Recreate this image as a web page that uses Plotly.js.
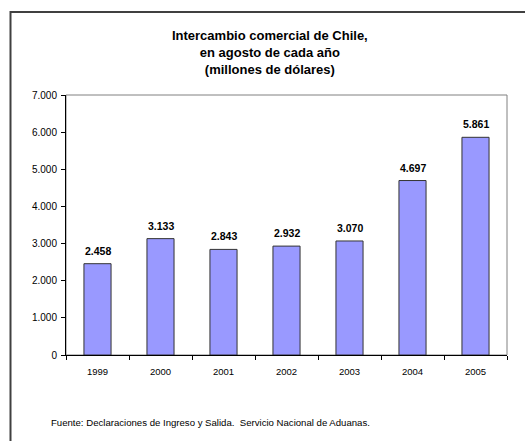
<!DOCTYPE html>
<html>
<head>
<meta charset="utf-8">
<script src="https://cdn.plot.ly/plotly-3.0.1.min.js"></script>
<style>
  html, body { margin: 0; padding: 0; background: #ffffff; }
  #chart { width: 525px; height: 441px; }
</style>
</head>
<body>
<div id="chart"></div>
<script>
const years = ['1999', '2000', '2001', '2002', '2003', '2004', '2005'];
const values = [2458, 3133, 2843, 2932, 3070, 4697, 5861];
const yTickVals = [0, 1000, 2000, 3000, 4000, 5000, 6000, 7000];
const titleLines = ['Intercambio comercial de Chile,', 'en agosto de cada año', '(millones de dólares)'];
const sourceNote = 'Fuente: Declaraciones de Ingreso y Salida.\u00a0\u00a0Servicio Nacional de Aduanas.';

const FONT = 'Liberation Sans, Arial, sans-serif';

function fmt(v) {
  return String(v).replace(/\B(?=(\d{3})+(?!\d))/g, '.');
}

const trace = {
  type: 'bar',
  x: years,
  y: values,
  marker: { color: '#9999FF', line: { color: '#333333', width: 1 } },
  hoverinfo: 'skip'
};

const labelAnnotations = years.map((yr, i) => ({
  x: i, y: values[i], xref: 'x', yref: 'y',
  text: '<b>' + fmt(values[i]) + '</b>',
  showarrow: false, yanchor: 'bottom', yshift: 5,
  font: { family: FONT, size: 10.5, color: '#000000' }
}));

const layout = {
  width: 525, height: 441,
  margin: { l: 66, r: 18, t: 95, b: 86 },
  paper_bgcolor: '#ffffff',
  plot_bgcolor: '#ffffff',
  separators: ',.',
  showlegend: false,
  bargap: 0.57,
  title: {
    text: '<b>' + titleLines.join('<br>') + '</b>',
    font: { family: FONT, size: 13, color: '#000000' },
    xref: 'container', x: 0.514, xanchor: 'center',
    yref: 'container', y: 1 - 40 / 441, yanchor: 'middle'
  },
  xaxis: {
    type: 'category',
    range: [-0.5, years.length - 0.5],
    showline: true, linecolor: '#000000', linewidth: 1,
    ticks: 'outside', tickson: 'boundaries', ticklen: 4, tickcolor: '#000000',
    tickfont: { family: FONT, size: 9.5, color: '#000000' },
    ticklabelstandoff: 8,
    tickangle: 0,
    showgrid: false, zeroline: false, fixedrange: true
  },
  yaxis: {
    range: [0, 7000],
    tickvals: yTickVals,
    ticktext: yTickVals.map(fmt),
    showline: true, linecolor: '#000000', linewidth: 1,
    ticks: 'outside', ticklen: 4, tickcolor: '#000000',
    tickfont: { family: FONT, size: 10, color: '#000000' },
    ticklabelstandoff: 2,
    showgrid: false, zeroline: false, fixedrange: true
  },
  shapes: [
    { type: 'rect', xref: 'paper', yref: 'paper', x0: 0, x1: 1, y0: 0, y1: 1,
      line: { color: '#808080', width: 1 }, layer: 'below' },
    { type: 'rect', xref: 'paper', yref: 'paper',
      x0: (10.5 - 66) / 441, x1: 1.2, y0: -0.6, y1: (355 - 12) / 260,
      line: { color: '#404040', width: 2 }, layer: 'above' }
  ],
  annotations: labelAnnotations.concat([
    { xref: 'paper', yref: 'paper', x: (49 - 66) / 441, y: (355 - 422) / 260,
      xanchor: 'left', yanchor: 'middle', showarrow: false,
      text: sourceNote, font: { family: FONT, size: 9.6, color: '#000000' } }
  ])
};

Plotly.newPlot('chart', [trace], layout, { displayModeBar: false, staticPlot: true });
</script>
</body>
</html>
